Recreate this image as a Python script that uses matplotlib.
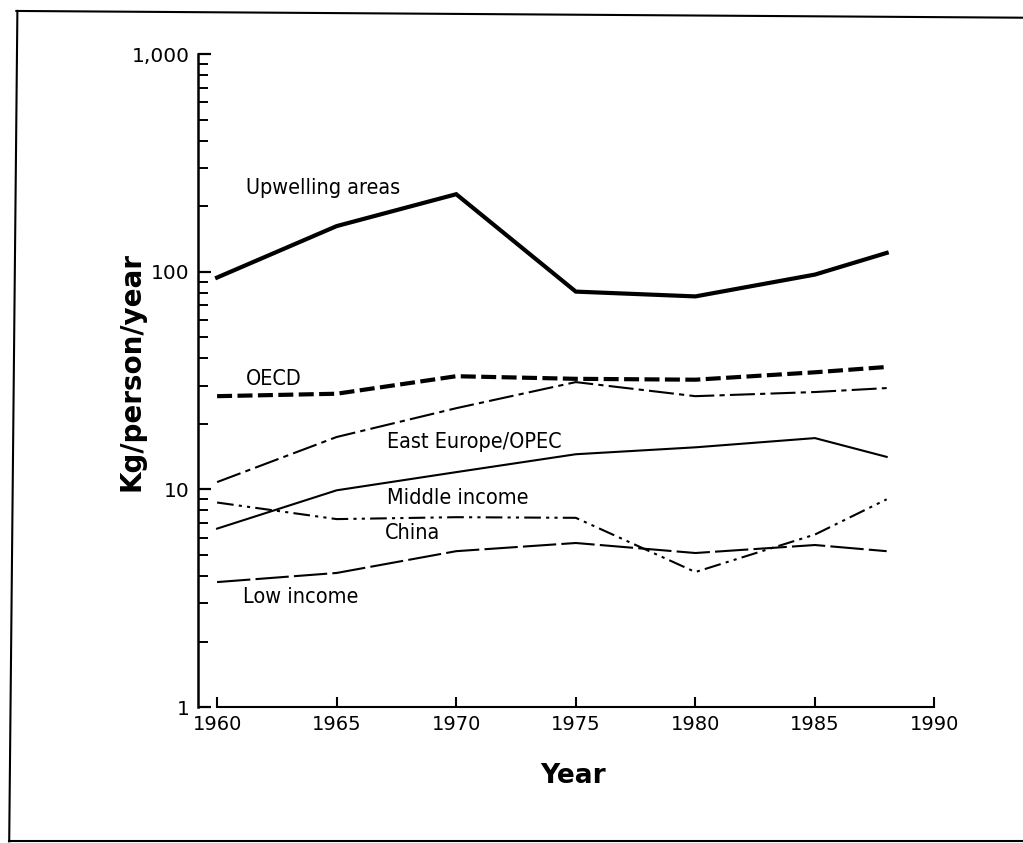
import numpy as np
import matplotlib
matplotlib.use("Agg")
import matplotlib.pyplot as plt
from matplotlib.lines import Line2D
from matplotlib.ticker import FixedLocator, LogLocator, NullFormatter

years = [1960, 1965, 1970, 1975, 1980, 1985, 1988]

upwelling = [94, 162, 227, 81, 77, 97, 122]
oecd = [26.8, 27.5, 33.1, 32.2, 31.9, 34.5, 36.5]
east_europe = [10.8, 17.4, 23.6, 31.1, 26.8, 28.0, 29.2]
middle_income = [6.6, 9.9, 12.0, 14.5, 15.6, 17.2, 14.1]
china = [8.7, 7.3, 7.45, 7.4, 4.17, 6.2, 9.0]
low_income = [3.75, 4.13, 5.2, 5.67, 5.1, 5.55, 5.2]

year_ticks = [1960, 1965, 1970, 1975, 1980, 1985, 1990]
value_ticks = [1, 10, 100, 1000]
value_labels = ["1", "10", "100", "1,000"]

fig = plt.figure(figsize=(10.23, 8.43), dpi=100)
ax = fig.add_axes([0.1935, 0.1613, 0.727, 0.7746])

ax.plot(years, upwelling, color="black", lw=3.0, solid_joinstyle="miter")
ax.plot(years, oecd, color="black", lw=3.0, linestyle=(0, (3.6, 1.3)))
ax.plot(years, east_europe, color="black", lw=1.5, linestyle=(0, (12, 2.5, 2.5, 2.5)))
ax.plot(years, middle_income, color="black", lw=1.5)
ax.plot(years, china, color="black", lw=1.5, linestyle=(0, (8, 2.5, 1.5, 2.5, 1.5, 2.5)))
ax.plot(years, low_income, color="black", lw=1.5, linestyle=(0, (16, 2.5)))

ax.set_yscale("log")
ax.set_xlim(1959.2, 1990.3)
ax.set_ylim(1, 1000)

ax.yaxis.set_major_locator(FixedLocator(value_ticks))
ax.set_yticklabels(value_labels)
ax.yaxis.set_minor_locator(LogLocator(base=10, subs=np.arange(2, 10)))
ax.yaxis.set_minor_formatter(NullFormatter())
ax.set_xticks(year_ticks)
ax.set_xticklabels([str(y) for y in year_ticks])

for s in ["top", "right"]:
    ax.spines[s].set_visible(False)
ax.spines["left"].set_linewidth(1.8)
ax.spines["bottom"].set_linewidth(1.5)
ax.spines["bottom"].set_bounds(1960, 1990)

ax.tick_params(axis="y", which="major", direction="in", length=9, width=1.6,
               labelsize=14.5, pad=6)
ax.tick_params(axis="y", which="minor", direction="in", length=7, width=1.4)
ax.tick_params(axis="x", which="major", direction="in", length=7, width=1.5,
               labelsize=14, pad=6)

ax.set_ylabel("Kg/person/year", fontsize=20, fontweight="bold")
ax.yaxis.set_label_coords(-0.071, 0.514)
ax.set_xlabel("Year", fontsize=19, fontweight="bold")
ax.xaxis.set_label_coords(0.504, -0.086)

fs = 15.5
kw = dict(fontsize=fs, va="center", fontstretch="condensed")
ax.text(1961.2, 242, "Upwelling areas", **kw)
ax.text(1961.2, 32.1, "OECD", **kw)
ax.text(1967.1, 16.5, "East Europe/OPEC", **kw)
ax.text(1967.1, 9.1, "Middle income", **kw)
ax.text(1967.0, 6.3, "China", **kw)
ax.text(1961.1, 3.2, "Low income", **kw)

# scanned page frame
fig.add_artist(Line2D([0.016, 1.0], [0.987, 0.979], color="black", lw=1.5))
fig.add_artist(Line2D([0.017, 0.009], [0.987, 0.002], color="black", lw=1.5))
fig.add_artist(Line2D([0.009, 1.0], [0.002, 0.002], color="black", lw=1.5))

fig.savefig("out.png", dpi=100)
